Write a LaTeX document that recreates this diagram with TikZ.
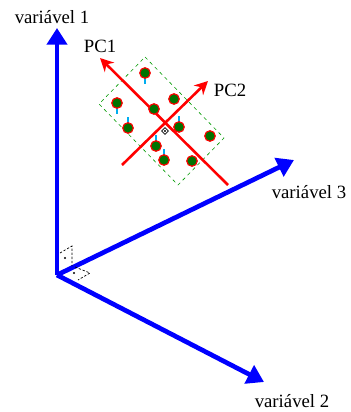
\documentclass[tikz,border=0pt]{standalone}
\usepackage{fontspec}
\setmainfont{Liberation Serif}
\usetikzlibrary{positioning, arrows.meta, calc, shapes.geometric}

\begin{document}
\begin{tikzpicture}[x=0.03cm,y=-0.03cm,font=\fontsize{16}{18}\selectfont,
  eixo/.style={draw=blue,line width=4pt,-{Triangle[length=5mm,width=6mm]}},
  pc/.style={draw=red,line width=2.2pt,-{Stealth[length=4mm,width=4mm]}},
  ponto/.style={circle,fill=green!45!black,draw=red,line width=1pt,minimum size=9pt,inner sep=0pt},
  proj/.style={draw=cyan,line width=1pt},
  reto/.style={draw,dash pattern=on 2pt off 1.5pt,line width=0.6pt},
  rot/.style={inner sep=1pt}]
  \useasboundingbox (0,0) rectangle (350,412);
  % eixos das variaveis
  \coordinate (o) at (57,275);
  \coordinate (v1) at (57,28);
  \coordinate (v2) at (264,382);
  \coordinate (v3) at (294,160);
  \draw[eixo](o)--(v1);
  \draw[eixo](o)--(v2);
  \draw[eixo](o)--(v3);
  \node[rot](l1) at (52,17){variável 1};
  \node[rot](l2) at (292,401){variável 2};
  \node[rot](l3) at (309,192){variável 3};
  % angulos retos
  \coordinate (a1) at (60,253);
  \coordinate (a2) at (72,246);
  \coordinate (a3) at (72,266);
  \draw[reto](a1)--(a2)--(a3);
  \fill (65,258) circle (0.9pt);
  \coordinate (b1) at (75,267);
  \coordinate (b2) at (90,273);
  \coordinate (b3) at (78,280);
  \draw[reto](b1)--(b2)--(b3);
  \fill (74,273) circle (0.9pt);
  % retangulo dos dados
  \coordinate (r1) at (145,57);
  \coordinate (r2) at (224,138);
  \coordinate (r3) at (178,185);
  \coordinate (r4) at (99,104);
  \draw[green!60!black,dashed,line width=0.5pt](r1)--(r2)--(r3)--(r4)--cycle;
  % componentes principais
  \coordinate (c1) at (228,185);
  \coordinate (c2) at (122,165);
  \coordinate (t1) at (100,58);
  \coordinate (t2) at (208,81);
  \draw[pc](c1)--(t1);
  \draw[pc](c2)--(t2);
  \node[rot](pc1) at (100,46){PC1};
  \node[rot](pc2) at (230,90){PC2};
  % centroide
  \node[draw,diamond,inner sep=1.5pt,line width=0.5pt,fill=white](m) at (165,131){};
  \fill (m) circle (0.9pt);
  % pontos
  \foreach \x/\y/\d in {145/73/11,117/103/11,128/128/-11,179/127/-11,156/146/-11,164/160/-11}
    \draw[proj](\x,\y)--++(0,\d);
  \foreach \x/\y [count=\i] in {145/73,117/103,174/99,154/109,128/128,179/127,210/136,156/146,164/160,192/161}
    \node[ponto](p\i) at (\x,\y){};
\end{tikzpicture}
\end{document}
